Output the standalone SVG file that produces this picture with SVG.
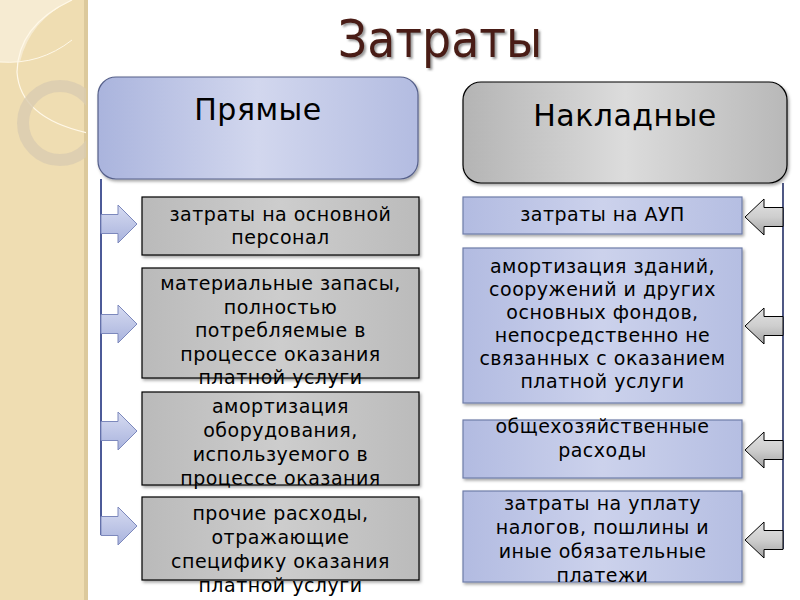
<svg xmlns="http://www.w3.org/2000/svg" width="800" height="600" viewBox="0 0 800 600">
<defs>
<linearGradient id="gHdrBlue" x1="0" y1="0" x2="1" y2="0"><stop offset="0" stop-color="#AAB4DD"/><stop offset="0.5" stop-color="#D2D7EE"/><stop offset="1" stop-color="#B3BCE1"/></linearGradient>
<linearGradient id="gHdrGray" x1="0" y1="0" x2="1" y2="0"><stop offset="0" stop-color="#B4B4B4"/><stop offset="0.5" stop-color="#DCDCDC"/><stop offset="1" stop-color="#B8B8B8"/></linearGradient>
<linearGradient id="gBoxGray" x1="0" y1="0" x2="1" y2="0"><stop offset="0" stop-color="#BABABA"/><stop offset="0.5" stop-color="#CDCDCD"/><stop offset="1" stop-color="#BBBBBB"/></linearGradient>
<linearGradient id="gBoxBlue" x1="0" y1="0" x2="1" y2="0"><stop offset="0" stop-color="#B2BBE1"/><stop offset="0.5" stop-color="#CCD2EC"/><stop offset="1" stop-color="#B5BEE2"/></linearGradient>
<linearGradient id="gArrBlue" x1="0" y1="0" x2="0" y2="1"><stop offset="0" stop-color="#D6DBF1"/><stop offset="1" stop-color="#A9B3DD"/></linearGradient>
<linearGradient id="gArrGray" x1="0" y1="0" x2="0" y2="1"><stop offset="0" stop-color="#E2E2E2"/><stop offset="0.5" stop-color="#CECECE"/><stop offset="1" stop-color="#A4A4A4"/></linearGradient>
<filter id="sh" x="-10%" y="-10%" width="120%" height="130%"><feDropShadow dx="1.5" dy="2" stdDeviation="1.5" flood-color="#000" flood-opacity="0.35"/></filter>
<filter id="tsh" x="-10%" y="-10%" width="120%" height="130%"><feDropShadow dx="2" dy="2" stdDeviation="1" flood-color="#555" flood-opacity="0.6"/></filter>
<clipPath id="strip"><rect x="0" y="0" width="86" height="600"/></clipPath>
</defs>
<style>
.t{font-family:"DejaVu Sans","Noto Sans",sans-serif;font-size:19px;letter-spacing:0.5px;fill:#000;text-anchor:middle}
.h{font-family:"DejaVu Sans","Noto Sans",sans-serif;font-size:30px;letter-spacing:0.5px;fill:#000;text-anchor:middle}
.gray{fill:url(#gBoxGray);stroke:#000;stroke-width:1.2}
.blue{fill:url(#gBoxBlue);stroke:#6F7DA8;stroke-width:1.2}
.ab{fill:url(#gArrBlue);stroke:#7C88BC;stroke-width:1}
.ag{fill:url(#gArrGray);stroke:#000;stroke-width:1}
.vl{fill:none;stroke-width:2}
</style>
<rect x="0" y="0" width="800" height="600" fill="#FFFFFF"/>
<g id="background-strip">
<rect x="0" y="0" width="88" height="600" fill="#EFDDB2"/>
<rect x="84" y="0" width="4" height="600" fill="#DCC99C"/>
<g clip-path="url(#strip)">
<path d="M0 0 H72 Q30 20 20 62 H0 Z" fill="#F6EBD2"/>
<path d="M72 0 Q18 25 17 72 Q20 118 88 133" fill="none" stroke="#FFF8E8" stroke-width="1.2"/>
<path d="M0 62 Q40 65 72 40" fill="none" stroke="#FFF8E8" stroke-width="1"/>
<circle cx="60" cy="123" r="37" fill="none" stroke="#D9CCB0" stroke-width="12" opacity="0.8"/>
</g>
</g>
<g id="title"><text x="440" y="57" font-family="DejaVu Sans, sans-serif" font-stretch="condensed" font-size="51" fill="#4A1C12" text-anchor="middle" filter="url(#tsh)">Затраты</text></g>
<g id="connectors">
<path class="vl" d="M101 179 V535" stroke="#4C5A98"/>
<path class="vl" d="M783 183 V549" stroke="#4F5884"/>
<path class="ab" d="M101 214.5 H118 V205 L137 224 L118 243 V233.5 H101 Z"/>
<path class="ab" d="M101 314.5 H118 V305 L137 324 L118 343 V333.5 H101 Z"/>
<path class="ab" d="M101 421.5 H118 V412 L137 431 L118 450 V440.5 H101 Z"/>
<path class="ab" d="M101 516.5 H118 V507 L137 526 L118 545 V535.5 H101 Z"/>
<path class="ag" d="M783 207.5 H764 V199 L745 217 L764 235 V226.5 H783 Z"/>
<path class="ag" d="M783 316.5 H764 V308 L745 326 L764 344 V335.5 H783 Z"/>
<path class="ag" d="M783 440.5 H764 V432 L745 450 L764 468 V459.5 H783 Z"/>
<path class="ag" d="M783 530.5 H764 V522 L745 540 L764 558 V549.5 H783 Z"/>
</g>
<g id="hdr-direct"><rect x="98" y="77" width="320" height="102" rx="18" fill="url(#gHdrBlue)" stroke="#56608A" stroke-width="1.2" filter="url(#sh)"/><text class="h" x="258" y="120">Прямые</text></g>
<g id="hdr-overhead"><rect x="463" y="82" width="324" height="101" rx="18" fill="url(#gHdrGray)" stroke="#000" stroke-width="1.2" filter="url(#sh)"/><text class="h" x="625" y="126">Накладные</text></g>
<g id="d1"><rect class="gray" x="142" y="197" width="277" height="58" filter="url(#sh)"/><text class="t" x="280.5" y="221">затраты на основной</text><text class="t" x="280.5" y="244">персонал</text></g>
<g id="d2"><rect class="gray" x="142" y="268" width="277" height="110" filter="url(#sh)"/><text class="t" x="280.5" y="290">материальные запасы,</text><text class="t" x="280.5" y="313.5">полностью</text><text class="t" x="280.5" y="337">потребляемые в</text><text class="t" x="280.5" y="360.5">процессе оказания</text><text class="t" x="280.5" y="384">платной услуги</text></g>
<g id="d3"><rect class="gray" x="142" y="392" width="277" height="93" filter="url(#sh)"/><text class="t" x="280.5" y="413">амортизация</text><text class="t" x="280.5" y="437">оборудования,</text><text class="t" x="280.5" y="461">используемого в</text><text class="t" x="280.5" y="485">процессе оказания</text></g>
<g id="d4"><rect class="gray" x="142" y="497" width="277" height="83" filter="url(#sh)"/><text class="t" x="280.5" y="520">прочие расходы,</text><text class="t" x="280.5" y="544">отражающие</text><text class="t" x="280.5" y="568">специфику оказания</text><text class="t" x="280.5" y="592">платной услуги</text></g>
<g id="o1"><rect class="blue" x="463" y="197" width="279" height="37" filter="url(#sh)"/><text class="t" x="602.5" y="221">затраты на АУП</text></g>
<g id="o2"><rect class="blue" x="463" y="248" width="279" height="155" filter="url(#sh)"/><text class="t" x="602.5" y="273">амортизация зданий,</text><text class="t" x="602.5" y="296">сооружений и других</text><text class="t" x="602.5" y="319">основных фондов,</text><text class="t" x="602.5" y="342">непосредственно не</text><text class="t" x="602.5" y="365">связанных с оказанием</text><text class="t" x="602.5" y="388">платной услуги</text></g>
<g id="o3"><rect class="blue" x="463" y="420" width="279" height="58" filter="url(#sh)"/><text class="t" x="602.5" y="433">общехозяйственные</text><text class="t" x="602.5" y="457">расходы</text></g>
<g id="o4"><rect class="blue" x="463" y="491" width="279" height="91" filter="url(#sh)"/><text class="t" x="602.5" y="510">затраты на уплату</text><text class="t" x="602.5" y="534">налогов, пошлины и</text><text class="t" x="602.5" y="558">иные обязательные</text><text class="t" x="602.5" y="582">платежи</text></g>
</svg>
